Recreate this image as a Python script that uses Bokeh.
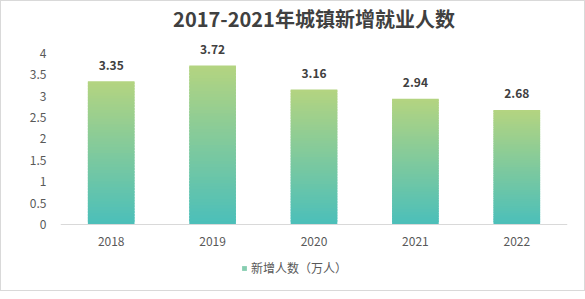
from bokeh.plotting import figure
from bokeh.models import Range1d, Legend, LegendItem, ColumnDataSource, FixedTicker, Span
from bokeh.core.properties import value
from bokeh.embed import file_html
from bokeh.resources import INLINE

years = ["2018", "2019", "2020", "2021", "2022"]
values = [3.35, 3.72, 3.16, 2.94, 2.68]
y_ticks = [0, 0.5, 1, 1.5, 2, 2.5, 3, 3.5, 4]
title_text = "2017-2021年城镇新增就业人数"
series_name = "新增人数（万人）"

FONT = "Noto Sans CJK SC"
TOP = (0xB4, 0xD4, 0x80)
BOT = (0x4B, 0xBF, 0xBA)

p = figure(x_range=years, y_range=Range1d(-1.544, 4.491), width=583, height=289,
           frame_width=507, frame_height=258,
           output_backend="svg", toolbar_location=None,
           min_border_left=59, min_border_right=17, min_border_top=31, min_border_bottom=0)
p.styles = {"border": "1px solid #d9d9d9"}
p.outline_line_color = None
p.background_fill_color = "white"
p.border_fill_color = "white"
p.xgrid.grid_line_color = None
p.ygrid.grid_line_color = None

p.title.text = title_text
p.title.align = "center"
p.title.text_font = FONT
p.title.text_font_size = "20px"
p.title.text_font_style = "bold"
p.title.text_color = "#404040"
p.title.standoff = 0

# category axis line at zero
p.add_layout(Span(location=0, dimension="width", line_color="#d9d9d9", line_width=1))

# gradient bars built from thin, slightly overlapping slices of each value
N = 50
xs, bottoms, tops, cols = [], [], [], []
for i in range(N):
    t = (i + 0.5) / N
    c = "#%02x%02x%02x" % tuple(int(round(BOT[k] + (TOP[k] - BOT[k]) * t)) for k in range(3))
    for yr, v in zip(years, values):
        xs.append(yr)
        bottoms.append(v * i / N)
        tops.append(min(v, v * (i + 1.7) / N))
        cols.append(c)
src = ColumnDataSource(dict(x=xs, bottom=bottoms, top=tops, color=cols))
bars = p.vbar(x="x", bottom="bottom", top="top", width=0.46, fill_color="color",
              line_color=None, source=src)

lab_src = ColumnDataSource(dict(x=years, y=values, t=["%.2f" % v for v in values]))
p.text(x="x", y="y", text="t", source=lab_src, text_align="center", text_baseline="middle",
       y_offset=-16, text_font=value(FONT), text_font_size="12px", text_font_style="bold",
       text_color="#404040")

# category labels under the axis line
cat_src = ColumnDataSource(dict(x=years, y=[0] * len(years), t=years))
p.text(x="x", y="y", text="t", source=cat_src, text_align="center", text_baseline="middle",
       y_offset=17, text_font=value(FONT), text_font_size="12px", text_color="#595959")
p.xaxis.visible = False

p.yaxis.ticker = FixedTicker(ticks=y_ticks)
p.yaxis.major_label_overrides = {t: ("%g" % t) for t in y_ticks}
p.yaxis.axis_line_color = None
p.yaxis.major_tick_line_color = None
p.yaxis.minor_tick_line_color = None
p.yaxis.major_label_text_font = FONT
p.yaxis.major_label_text_font_size = "12px"
p.yaxis.major_label_text_color = "#595959"
p.yaxis.major_label_standoff = 8

# legend swatch renderer (kept outside the visible range)
dummy = p.vbar(x=["2018"], bottom=[-5.1], top=[-5], width=0.1, fill_color="#86cdb0", line_color=None)
legend = Legend(items=[LegendItem(label=series_name, renderers=[dummy])],
                location=(181, 14), orientation="horizontal",
                label_text_font=FONT, label_text_font_size="12px", label_text_color="#595959",
                label_height=14, glyph_width=6, glyph_height=6, label_standoff=4,
                padding=0, margin=0, spacing=0,
                border_line_color=None, background_fill_alpha=0)
p.add_layout(legend, "center")

open("out.html", "w").write(file_html(p, INLINE))
